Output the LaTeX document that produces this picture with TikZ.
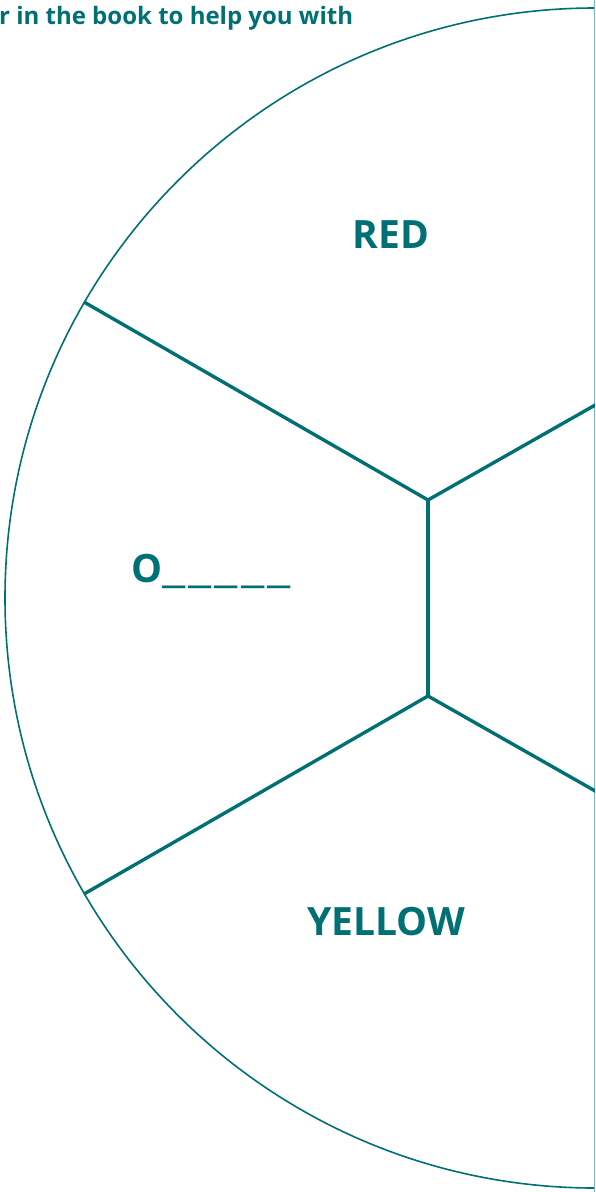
\documentclass[tikz,border=0pt]{standalone}
\usepackage{fontspec}
\usepackage{graphicx}
\setmainfont{Open Sans}
\usetikzlibrary{positioning,calc}
\definecolor{WheelTeal}{RGB}{0,112,116}
\definecolor{EdgeTeal}{RGB}{120,185,188}
\tikzset{
	rim/.style={draw=WheelTeal,line width=1.6pt},
	spoke/.style={draw=WheelTeal,line width=3.4pt,line join=miter},
	colourname/.style={text=WheelTeal,font=\fontsize{39}{41}\selectfont\bfseries,inner sep=0pt},
}
\newcommand{\blank}{\scalebox{1.45}[1]{\_}\kern3pt}

\begin{document}
\begin{tikzpicture}[x=1pt,y=-1pt]
	\useasboundingbox (0,0) rectangle (595,1192);
	\clip (0,0) rectangle (595,1192);
	\coordinate (c) at (595,598);
	\coordinate (up) at (428,500);
	\coordinate (dn) at (428,696);
	\coordinate (ul) at (84,302);
	\coordinate (ur) at (597,404);
	\coordinate (ll) at (84,894);
	\coordinate (lr) at (597,792);
	\draw[rim] (c) circle[radius=590];
	\draw[EdgeTeal,line width=1pt] (594.5,0) -- (594.5,1192);
	\draw[spoke] (ul)--(up)--(ur);
	\draw[spoke] (up)--(dn);
	\draw[spoke] (ll)--(dn)--(lr);
	\node[colourname] (red) at (391,235) {RED};
	\node[colourname] (orange) at (211,571) {O\blank\blank\blank\blank\scalebox{1.45}[1]{\_}};
	\node[colourname] (yellow) at (386,922) {YELLOW};
	\node[text=WheelTeal,font=\fontsize{24}{27}\selectfont\bfseries,anchor=base west,inner sep=0pt] (hint) at (-1,24) {r in the book to help you with};
\end{tikzpicture}
\end{document}
